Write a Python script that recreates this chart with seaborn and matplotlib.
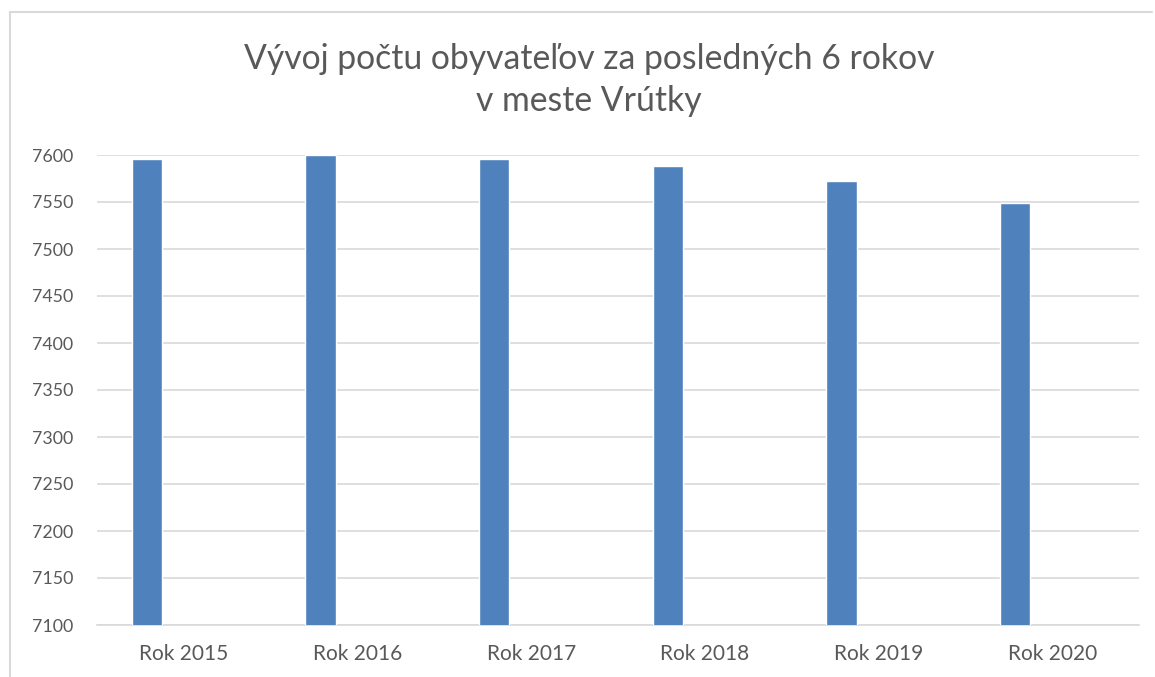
import pandas as pd
import matplotlib.pyplot as plt
import seaborn as sns
from matplotlib.lines import Line2D

# Data
roky = ["Rok 2015", "Rok 2016", "Rok 2017", "Rok 2018", "Rok 2019", "Rok 2020"]
obyvatelia = [7596, 7600, 7596, 7588, 7572, 7549]
serie = ["Počet obyvateľov", "prázdna"]  # second series is empty, as in the original chart

df = pd.DataFrame({"rok": roky, "pocet": obyvatelia, "serie": serie[0]})

sns.set_style("white")
plt.rcParams["font.family"] = ["Lato", "DejaVu Sans"]

text_color = "#595959"
grid_color = "#d9d9d9"

fig = plt.figure(figsize=(11.55, 6.77), dpi=100)
ax = fig.add_axes([97 / 1155, 1 - 625 / 677, (1139 - 97) / 1155, (625 - 155) / 677])

sns.barplot(data=df, x="rok", y="pocet", hue="serie", hue_order=serie,
            order=roky, palette=["#4F81BD", "#C0504D"],
            width=0.853, gap=0.594, dodge=True, legend=False, ax=ax,
            saturation=1, zorder=3)

ax.set_ylim(7100, 7600)
ax.set_yticks(range(7100, 7601, 50))
ax.set_xlim(-0.5, len(roky) - 0.5)
ax.yaxis.grid(True, color=grid_color, linewidth=1.2, zorder=0)
ax.set_axisbelow(True)
for s in ["left", "right", "top"]:
    ax.spines[s].set_visible(False)
ax.spines["bottom"].set_color(grid_color)
ax.spines["bottom"].set_linewidth(1.2)
ax.tick_params(axis="both", length=0, labelcolor=text_color)
ax.tick_params(axis="y", pad=17, labelsize=12.8)
ax.tick_params(axis="x", pad=14, labelsize=15)
ax.set_xlabel("")
ax.set_ylabel("")

fig.text(589 / 1155, 1 - 80 / 677, "Vývoj počtu obyvateľov za posledných 6 rokov\nv meste Vrútky",
         ha="center", va="center", fontsize=24.3, color=text_color,
         linespacing=1.4)

# outer chart border
fig.add_artist(Line2D([10 / 1155, 10 / 1155], [0, 1 - 12 / 677], transform=fig.transFigure,
                      color=grid_color, linewidth=1.5))
fig.add_artist(Line2D([10 / 1155, 1152 / 1155], [1 - 12 / 677, 1 - 12 / 677], transform=fig.transFigure,
                      color=grid_color, linewidth=1.5))

plt.savefig("out.png", dpi=100)
plt.close()
